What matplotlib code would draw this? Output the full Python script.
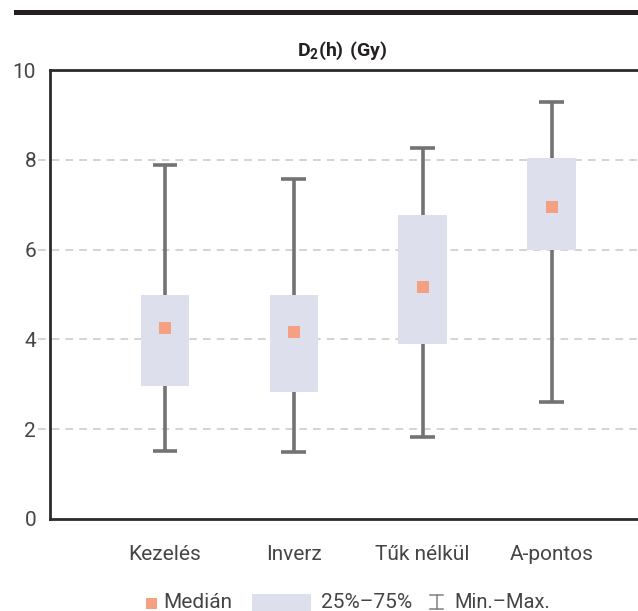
import matplotlib
matplotlib.use("Agg")
import matplotlib.pyplot as plt
from matplotlib.patches import Rectangle
from matplotlib.lines import Line2D

# data
categories = ["Kezelés", "Inverz", "Tűk nélkül", "A-pontos"]
mins = [1.52, 1.50, 1.83, 2.60]
q1 = [2.96, 2.83, 3.90, 5.99]
medians = [4.26, 4.17, 5.17, 6.95]
q3 = [5.00, 5.00, 6.78, 8.04]
maxs = [7.89, 7.57, 8.27, 9.28]
yticks = [0, 2, 4, 6, 8, 10]

box_color = "#dde0ec"
median_color = "#f5a083"
whisker_color = "#737373"
text_color = "#454545"

plt.rcParams["font.family"] = ["Roboto", "DejaVu Sans"]
plt.rcParams["mathtext.fontset"] = "custom"
plt.rcParams["mathtext.rm"] = "Roboto"
plt.rcParams["mathtext.bf"] = "Roboto:bold"

W, H = 638, 611
fig = plt.figure(figsize=(W / 100, H / 100), dpi=100)
# axes: left 50px, top 70px, bottom 519px, runs off the right edge
ax = fig.add_axes([50 / W, 1 - 519 / H, 1 - 50 / W + 0.01, (519 - 70) / H])

x = list(range(len(categories)))
box_w = 0.375
cap_w = 0.19

for i in x:
    ax.vlines(i, mins[i], q1[i], color=whisker_color, lw=2.6, zorder=2)
    ax.vlines(i, q3[i], maxs[i], color=whisker_color, lw=2.6, zorder=2)
    ax.hlines([mins[i], maxs[i]], i - cap_w / 2, i + cap_w / 2,
              color=whisker_color, lw=2.6, zorder=2)
    ax.add_patch(Rectangle((i - box_w / 2, q1[i]), box_w, q3[i] - q1[i],
                           facecolor=box_color, edgecolor="none", zorder=3))

ax.scatter(x, medians, marker="s", s=75, color=median_color,
           edgecolors="none", zorder=4)

ax.set_xlim(-0.89, 3.72)
ax.set_ylim(0, 10)
ax.set_yticks(yticks)
ax.set_xticks(x)
ax.set_xticklabels(categories)
ax.tick_params(length=0, labelsize=15, labelcolor=text_color)
ax.tick_params(axis="x", pad=19)
ax.tick_params(axis="y", pad=10)

for v in yticks[1:-1]:
    ax.axhline(v, xmin=-0.02, xmax=1, color="#c8c8c8", lw=1.1,
               ls=(0, (5, 4)), zorder=1, clip_on=False)

for side in ["left", "bottom", "top"]:
    ax.spines[side].set_linewidth(2)
    ax.spines[side].set_color("#2b2b2b")
ax.spines["right"].set_visible(False)

# title
fig.text(342 / W, 1 - 51 / H, r"$\mathbf{D_2(h)\ (Gy)}$", ha="center",
         va="center", fontsize=14, color="#231f20")

# black rule on top
fig.add_artist(Rectangle((14 / W, 1 - 15 / H), 1, 5 / H, transform=fig.transFigure,
                         facecolor="#231f20", edgecolor="none"))

# legend, built by hand
ly = 1 - 603 / H
fig.add_artist(Rectangle((146 / W, 1 - 609 / H), 11 / W, 11 / H,
                         transform=fig.transFigure, facecolor=median_color,
                         edgecolor="none"))
fig.text(163 / W, ly, "Medián", ha="left", va="center", fontsize=15,
         color=text_color)
fig.add_artist(Rectangle((252 / W, 0), 59 / W, 17 / H, transform=fig.transFigure,
                         facecolor=box_color, edgecolor="none"))
fig.text(321 / W, ly, "25%–75%", ha="left", va="center", fontsize=15,
         color=text_color)
ix0, ix1, ixm = 430 / W, 443 / W, 436.5 / W
iy0, iy1 = 1 - 609 / H, 1 - 595 / H
for seg in [([ix0, ix1], [iy0, iy0]), ([ix0, ix1], [iy1, iy1]), ([ixm, ixm], [iy0, iy1])]:
    fig.add_artist(Line2D(seg[0], seg[1], transform=fig.transFigure,
                          color="#808080", lw=1.1))
fig.text(454 / W, ly, "Min.–Max.", ha="left", va="center", fontsize=14.5,
         color=text_color)

fig.savefig("out.png", dpi=100)
